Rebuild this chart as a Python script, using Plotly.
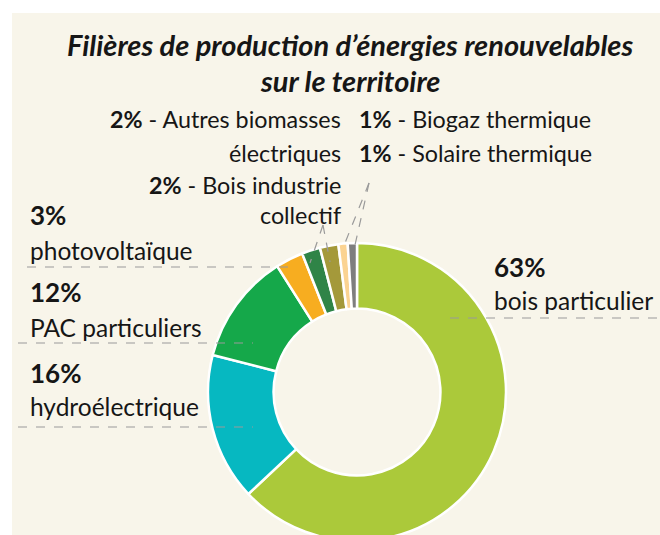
import plotly.graph_objects as go

# ---- data ----
categories = ["bois particulier", "hydroélectrique", "PAC particuliers", "photovoltaïque",
              "Bois industrie collectif", "Autres biomasses électriques",
              "Biogaz thermique", "Solaire thermique"]
values = [63, 16, 12, 3, 2, 2, 1, 1]
colors = ["#abc93a", "#06b8c1", "#15a84a", "#f7ad20", "#2f8447", "#a4993a", "#fbd392", "#7e7e7e"]

W, H = 660, 545
FONT = "Lato"
TXT = "#161616"

def px(x):
    return x / W

def py(y):
    return 1 - y / H

fig = go.Figure()
fig.add_trace(go.Pie(
    labels=categories, values=values, sort=False, direction="clockwise", rotation=0,
    hole=0.56, marker=dict(colors=colors, line=dict(color="white", width=2.5)),
    textinfo="none", hoverinfo="label+percent", showlegend=False,
    domain=dict(x=[px(357 - 149), px(357 + 149)], y=[py(541), py(243)]),
))

shapes = []
# cream panel
shapes.append(dict(type="rect", xref="paper", yref="paper", x0=px(12), x1=1.0, y0=0, y1=py(13),
                   fillcolor="#f8f5ea", line=dict(width=0), layer="below"))
dash = dict(color="#9a9a9a", width=1.2, dash="dash")
def seg(x0, y0, x1, y1):
    shapes.append(dict(type="line", xref="paper", yref="paper", x0=px(x0), y0=py(y0),
                       x1=px(x1), y1=py(y1), line=dash, layer="above"))

seg(27, 267, 293, 267)
seg(18, 343, 253, 343)
seg(18, 427, 253, 427)
seg(450, 318, 660, 318)
seg(323, 225, 310, 263)
seg(323, 225, 330, 262)
seg(369, 183, 343, 248)
seg(369, 183, 355, 245)

annotations = []
def txt(x, y, text, size=24.5, anchor="left", bold=False):
    if bold:
        text = "<b>" + text + "</b>"
    annotations.append(dict(x=px(x), y=py(y), xref="paper", yref="paper", text=text,
                            showarrow=False, xanchor=anchor, yanchor="middle",
                            font=dict(family=FONT, size=size, color=TXT)))

# title
for yy, t in [(44, "Filières de production d’énergies renouvelables"), (80, "sur le territoire")]:
    annotations.append(dict(x=px(350), y=py(yy), xref="paper", yref="paper",
                            text="<b><i>" + t + "</i></b>", showarrow=False,
                            xanchor="center", yanchor="middle",
                            font=dict(family=FONT, size=29, color=TXT)))

txt(28, 215, "3%", size=26, bold=True)
txt(28, 250, "photovoltaïque")
txt(28, 292, "12%", size=26, bold=True)
txt(28, 327, "PAC particuliers")
txt(28, 373, "16%", size=26, bold=True)
txt(28, 406, "hydroélectrique")
txt(492, 267, "63%", size=26, bold=True)
txt(492, 300, "bois particulier")

TS = 23.3
txt(343, 119, "<b>2%</b> - Autres biomasses", size=TS, anchor="right")
txt(343, 153, "électriques", size=TS, anchor="right")
txt(343, 185, "<b>2%</b> - Bois industrie", size=TS, anchor="right")
txt(343, 215, "collectif", size=TS, anchor="right")
txt(357, 119, "<b>1%</b> - Biogaz thermique", size=TS)
txt(357, 153, "<b>1%</b> - Solaire thermique", size=TS)

fig.update_layout(width=W, height=H, margin=dict(l=0, r=0, t=0, b=0),
                  paper_bgcolor="white", plot_bgcolor="white",
                  shapes=shapes, annotations=annotations, font=dict(family=FONT))

fig.write_html("out.html", config={"displayModeBar": False},
               post_script="document.body.style.margin='0';document.body.style.overflow='hidden';")
